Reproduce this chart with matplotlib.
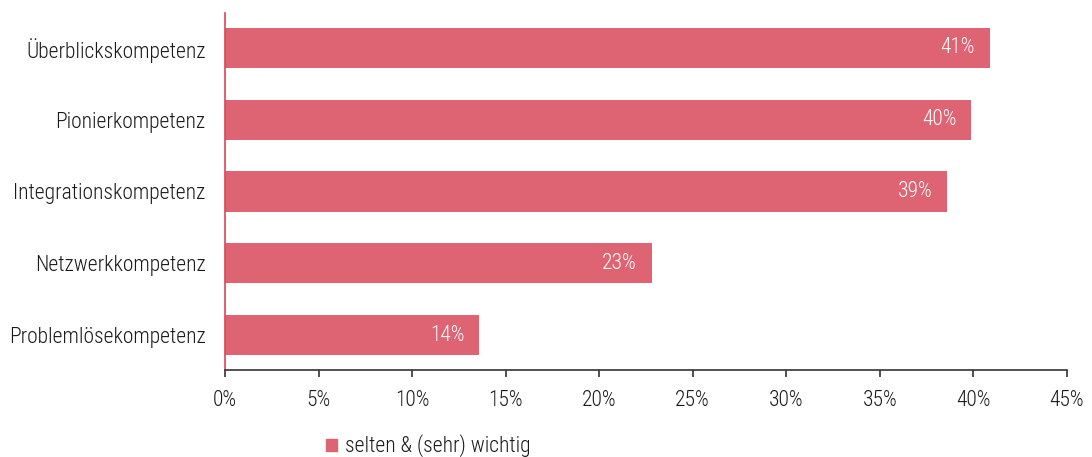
import matplotlib
matplotlib.use("Agg")
import matplotlib.pyplot as plt
from matplotlib.patches import Patch
from matplotlib.ticker import MultipleLocator, FuncFormatter

plt.rcParams['font.family'] = ['Roboto Condensed', 'Roboto', 'DejaVu Sans']
plt.rcParams['font.weight'] = 'light'

# competence categories, top to bottom
categories = [
    "Überblickskompetenz",
    "Pionierkompetenz",
    "Integrationskompetenz",
    "Netzwerkkompetenz",
    "Problemlösekompetenz",
]
# share answering "selten & (sehr) wichtig", in percent
shares = [40.9, 39.9, 38.6, 22.8, 13.6]
series_name = "selten & (sehr) wichtig"

bar_color = "#de6474"
axis_color = "#333333"
text_color = "#1a1a1a"
fsize = 15.5

fig = plt.figure(figsize=(10.92, 4.57), dpi=100)
ax = fig.add_axes([0.206, 0.19, 0.771, 0.782])

ypos = list(range(len(categories)))
bars = ax.barh(ypos, shares, height=0.56, color=bar_color)

# white value labels inside the bar ends
for y, v in zip(ypos, shares):
    ax.text(v - 0.8, y, f"{round(v):d}%", color="white", ha="right",
            va="center", fontsize=fsize, fontweight="light")

ax.set_yticks(ypos)
ax.set_yticklabels(categories, fontsize=fsize, fontweight="light")
ax.set_ylim(len(categories) - 0.51, -0.49)
ax.set_xlim(0, 45)
ax.xaxis.set_major_locator(MultipleLocator(5))
ax.xaxis.set_major_formatter(FuncFormatter(lambda x, _: f"{x:.0f}%"))
ax.tick_params(axis="x", labelsize=fsize, length=5, width=1.2, color=axis_color,
               pad=9, labelcolor=text_color)
ax.tick_params(axis="y", length=0, pad=14, labelcolor=text_color)
for lbl in ax.get_xticklabels():
    lbl.set_fontweight("light")

for side in ("top", "right"):
    ax.spines[side].set_visible(False)
ax.spines["left"].set_color("#d9435a")
ax.spines["left"].set_linewidth(1.2)
ax.spines["bottom"].set_color(axis_color)
ax.spines["bottom"].set_linewidth(1.2)

fig.legend(handles=[Patch(color=bar_color, label=series_name)],
           loc="center left", bbox_to_anchor=(0.281, 0.024), frameon=False,
           prop={"size": fsize, "weight": "light"}, handlelength=0.5,
           handleheight=0.5, handletextpad=0.35, labelcolor=text_color)

fig.savefig("out.png", dpi=100)
